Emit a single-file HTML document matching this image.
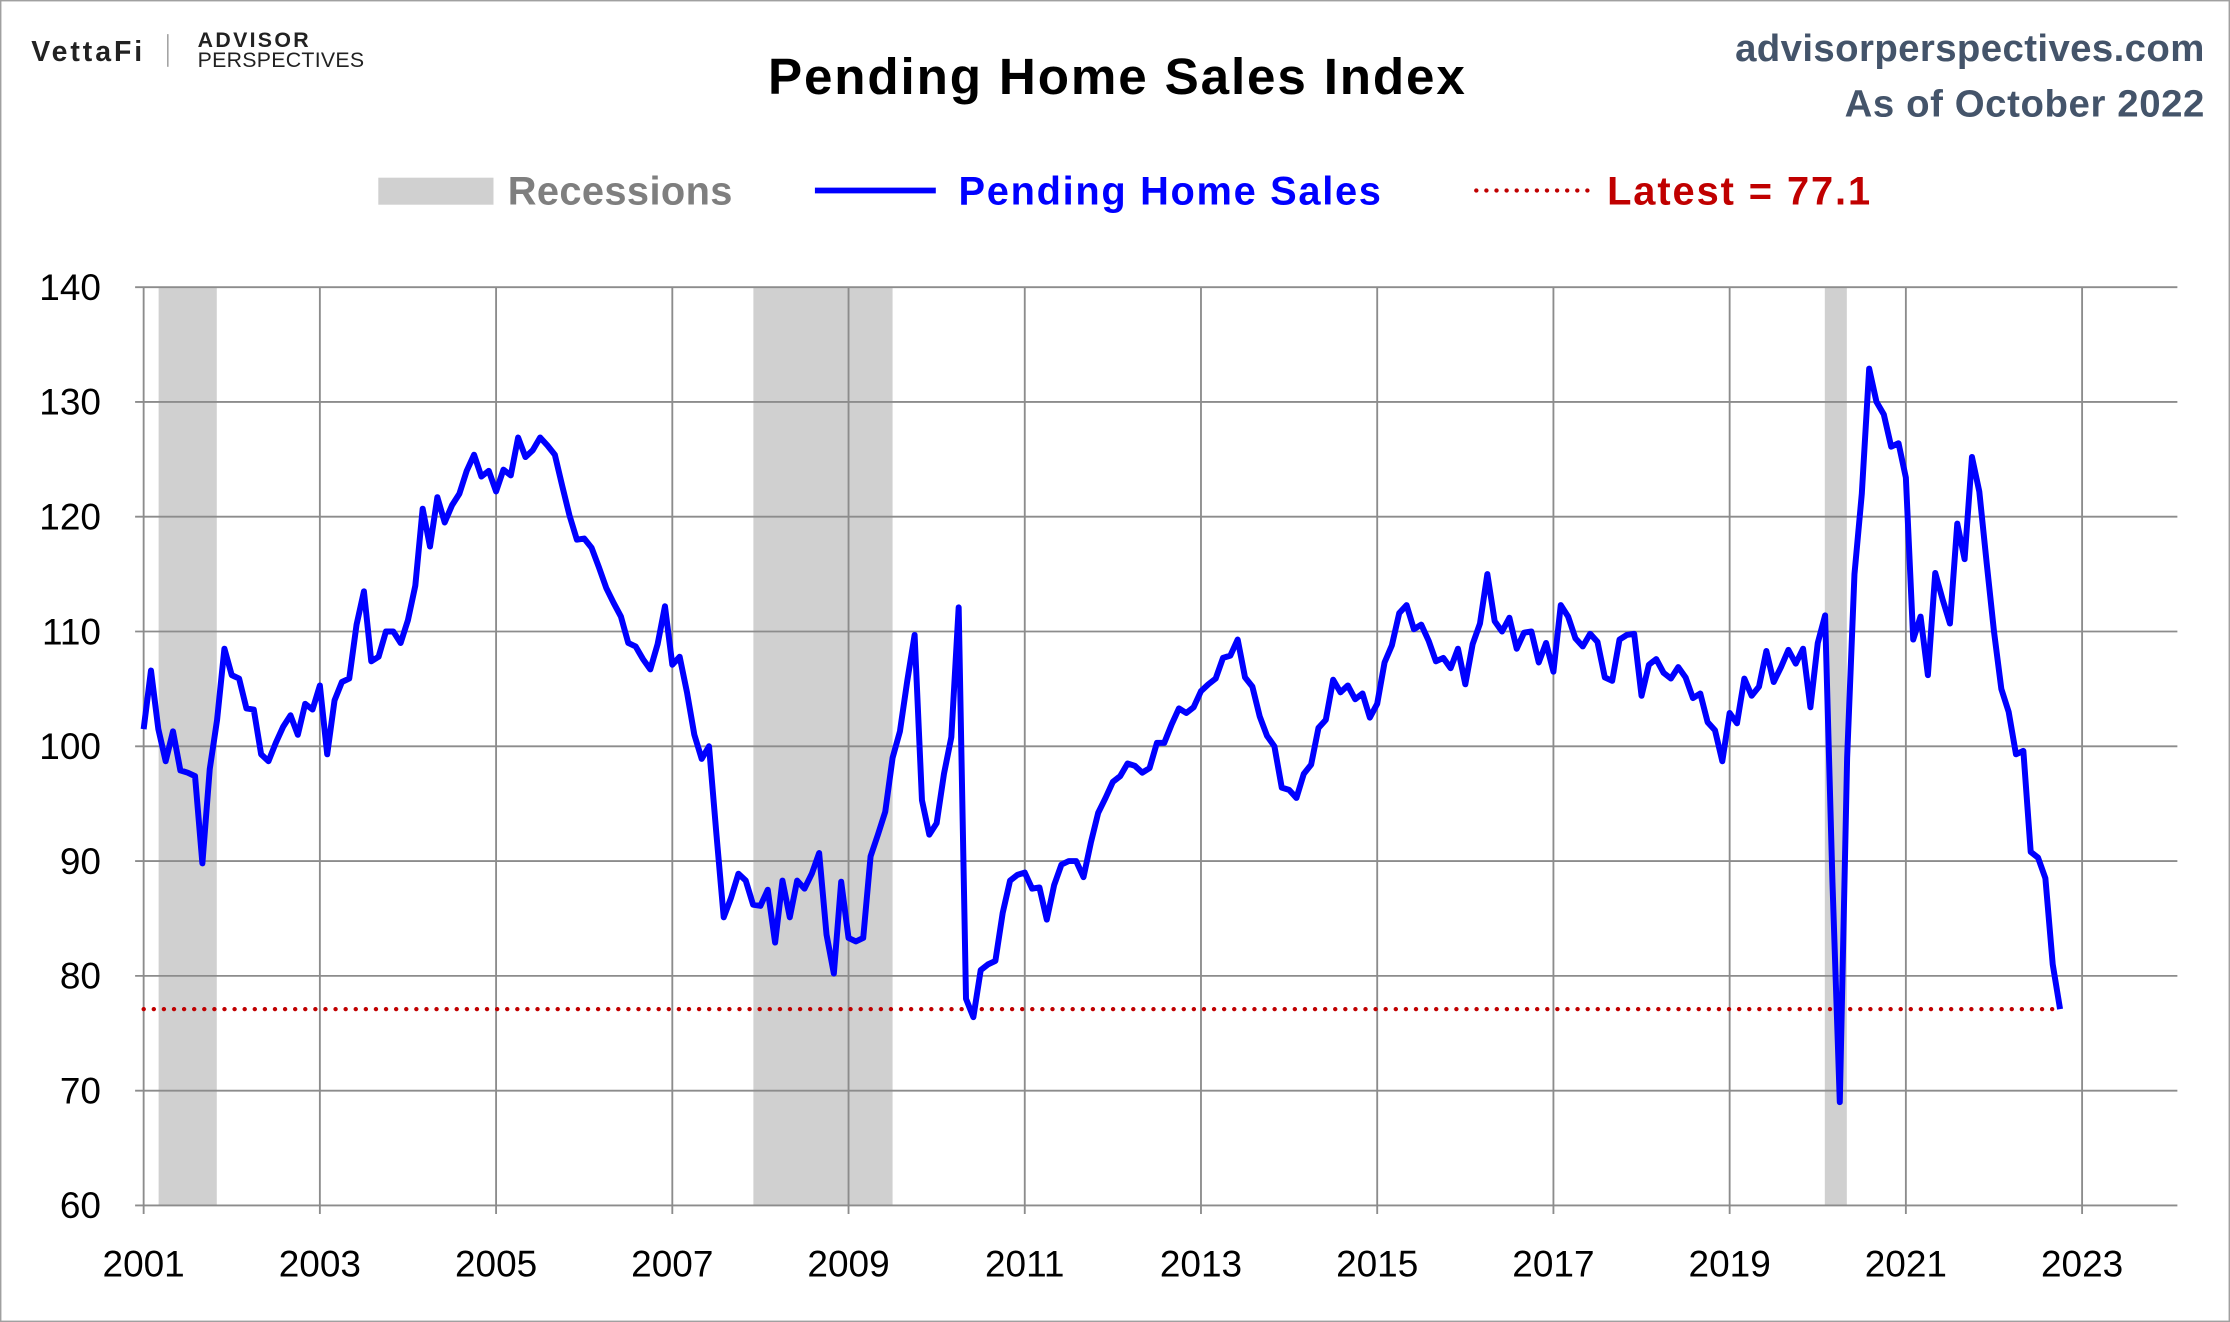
<!DOCTYPE html>
<html><head><meta charset="utf-8"><style>
html,body{margin:0;padding:0;background:#fff;}
svg{display:block;font-family:"Liberation Sans",sans-serif;}
</style></head><body>
<svg id="chart" width="2230" height="1322" viewBox="0 0 1568 930" preserveAspectRatio="none" xmlns="http://www.w3.org/2000/svg">
<rect x="0.5" y="0.5" width="1567" height="929" fill="#fff" stroke="#a0a0a0"/>
<g>
<text x="22" y="43" font-size="20" font-weight="bold" fill="#222" textLength="78">VettaFi</text>
<line x1="118" y1="24" x2="118" y2="47" stroke="#999"/>
<text x="139" y="33" font-size="15" font-weight="bold" fill="#222" textLength="78">ADVISOR</text>
<text x="139" y="47" font-size="15" fill="#222" textLength="117">PERSPECTIVES</text>
</g>
<text x="785" y="66" text-anchor="middle" font-size="36" font-weight="bold" fill="#000" textLength="490">Pending Home Sales Index</text>
<text x="1550" y="43" text-anchor="end" font-size="27" font-weight="bold" fill="#44546a" textLength="330">advisorperspectives.com</text>
<text x="1550" y="82" text-anchor="end" font-size="27" font-weight="bold" fill="#44546a" textLength="253">As of October 2022</text>
<g>
<rect x="266" y="125" width="81" height="19" fill="#d0d0d0"/>
<text x="357" y="144" font-size="28" font-weight="bold" fill="#7f7f7f" textLength="158">Recessions</text>
<line x1="573" y1="134" x2="658" y2="134" stroke="#0000ff" stroke-width="4"/>
<text x="674" y="144" font-size="28" font-weight="bold" fill="#0000ff" textLength="297">Pending Home Sales</text>
<line x1="1038" y1="134" x2="1120" y2="134" stroke="#c00000" stroke-width="3" stroke-dasharray="0.1 7" stroke-linecap="round"/>
<text x="1130" y="144" font-size="28" font-weight="bold" fill="#c00000" textLength="185">Latest = 77.1</text>
</g>
<g id="plot"></g>
</svg>
<script>
const yTicks = [60,70,80,90,100,110,120,130,140];
const xTickYears = [2001,2003,2005,2007,2009,2011,2013,2015,2017,2019,2021,2023];
const recessionStarts = [2001.17, 2007.92, 2020.08];
const recessionEnds = [2001.83, 2009.5, 2020.33];
const startYear = 2001;
const latestValue = 77.1;
const phsValues = [
101.5,106.6,101.5,98.7,101.3,97.9,97.7,97.4,89.8,98.0,102.3,108.5,
106.2,105.9,103.3,103.2,99.3,98.7,100.3,101.7,102.7,101.0,103.7,103.2,
105.3,99.3,104.0,105.6,105.9,110.6,113.5,107.4,107.8,110.0,110.0,109.0,
111.0,114.0,120.7,117.4,121.7,119.5,121.0,122.0,124.0,125.4,123.5,124.0,
122.2,124.1,123.6,126.9,125.2,125.8,126.9,126.2,125.4,122.7,120.1,118.0,
118.1,117.3,115.6,113.8,112.5,111.3,109.0,108.7,107.6,106.7,108.9,112.2,
107.1,107.8,104.7,101.0,98.9,100.0,92.4,85.1,86.8,88.9,88.3,86.2,
86.1,87.5,82.9,88.3,85.1,88.3,87.6,88.9,90.7,83.6,80.2,88.2,
83.3,83.0,83.3,90.4,92.3,94.3,99.0,101.3,105.7,109.7,95.3,92.3,
93.3,97.6,100.8,112.1,78.0,76.4,80.5,81.0,81.3,85.5,88.3,88.8,
89.0,87.6,87.7,84.9,87.9,89.7,90.0,90.0,88.6,91.6,94.2,95.5,
96.9,97.4,98.5,98.3,97.7,98.1,100.3,100.3,101.9,103.3,102.9,103.4,
104.8,105.4,105.9,107.7,107.9,109.3,106.0,105.2,102.6,100.9,100.0,96.4,
96.2,95.5,97.6,98.4,101.6,102.3,105.8,104.7,105.3,104.1,104.6,102.5,
103.7,107.3,108.8,111.6,112.3,110.2,110.6,109.2,107.4,107.7,106.8,108.5,
105.4,108.9,110.7,115.0,110.9,110.0,111.2,108.5,109.9,110.0,107.3,109.0,
106.5,112.3,111.3,109.4,108.7,109.8,109.1,106.0,105.7,109.3,109.7,109.8,
104.4,107.1,107.6,106.4,105.9,106.9,106.0,104.2,104.6,102.1,101.4,98.7,
102.9,102.0,105.9,104.4,105.2,108.3,105.6,106.9,108.4,107.2,108.5,103.4,
109.0,111.4,88.2,69.0,99.0,115.0,122.0,132.9,130.0,128.9,126.1,126.4,
123.4,109.3,111.3,106.2,115.1,112.8,110.7,119.4,116.3,125.2,122.2,116.0,
110.0,105.0,103.0,99.3,99.6,90.8,90.3,88.5,81.0,77.1
];
const NS="http://www.w3.org/2000/svg";
const L=101, R=1531, T=202, B=848;
const xs = yr => 101 + (yr-2001)*(1464-101)/22;
const ys = v => B - (v-60)*(B-T)/80;
const g=document.getElementById('plot');
function mk(tag, attrs){const e=document.createElementNS(NS,tag);for(const k in attrs)e.setAttribute(k,attrs[k]);g.appendChild(e);return e;}
recessionStarts.forEach((s,i)=>{
  const e=mk('rect',{x:xs(s),y:T,width:xs(recessionEnds[i])-xs(s),height:B-T,fill:'#d0d0d0'});
  
  
});
yTicks.forEach(v=>{
  const l=mk('line',{x1:L-6,x2:R,y1:ys(v),y2:ys(v),stroke:'#8c8c8c','stroke-width':1.3});
  
  
  const t=mk('text',{x:71,y:ys(v)+9,'text-anchor':'end','font-size':26,fill:'#000'});
  t.textContent=v;
  
  
});
xTickYears.forEach(yr=>{
  const l=mk('line',{x1:xs(yr),x2:xs(yr),y1:T,y2:B+6,stroke:'#8c8c8c','stroke-width':1.3});
  
  
  const t=mk('text',{x:xs(yr),y:898,'text-anchor':'middle','font-size':26,fill:'#000'});
  t.textContent=yr;
  
  
});
const lastX = xs(startYear+(phsValues.length-1)/12);
const ll=mk('line',{x1:L,x2:lastX,y1:ys(latestValue),y2:ys(latestValue),stroke:'#c00000','stroke-width':3,'stroke-dasharray':'0.1 7','stroke-linecap':'round'});


const pts=phsValues.map((v,i)=>xs(startYear+i/12).toFixed(2)+','+ys(v).toFixed(2)).join(' ');
const pl=mk('polyline',{points:pts,fill:'none',stroke:'#0000ff','stroke-width':4.2,'stroke-linejoin':'round'});


</script>
</body></html>
